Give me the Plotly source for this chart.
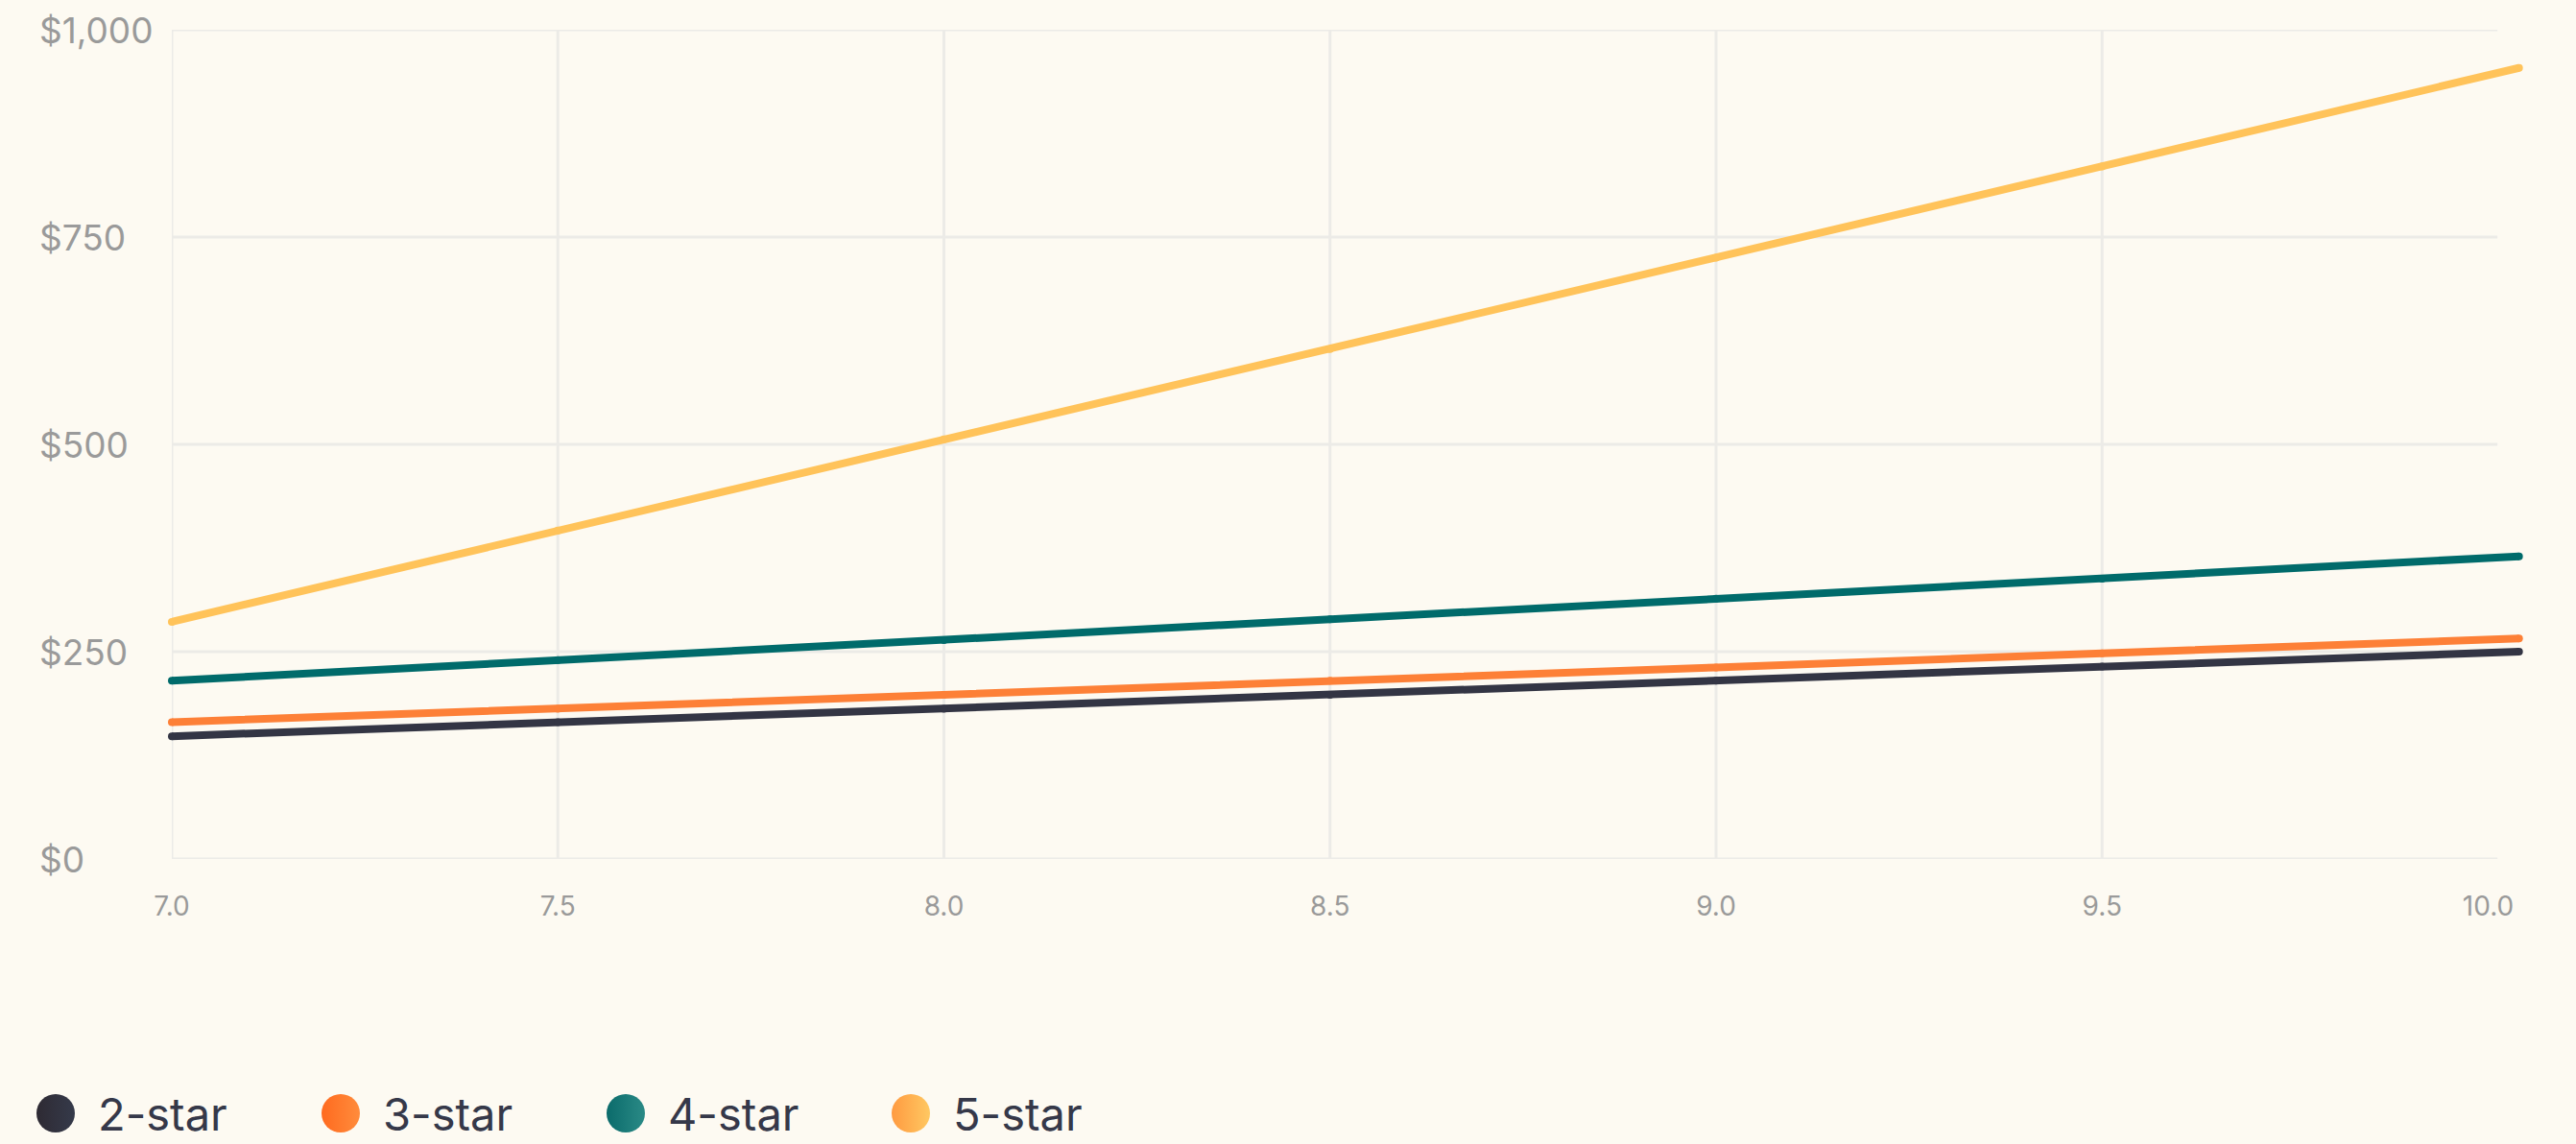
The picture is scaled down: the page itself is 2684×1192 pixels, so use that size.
import plotly.graph_objects as go

# Nightly rate by review score, per hotel class
review_score = [7.0, 7.5, 8.0, 8.5, 9.0, 9.5, 10.04]
series_names = ["2-star", "3-star", "4-star", "5-star"]
rate_2_star = [148, 165, 181, 198, 215, 232, 250]
rate_3_star = [165, 181, 198, 215, 231, 248, 266]
rate_4_star = [215, 240, 264, 289, 314, 338, 365]
rate_5_star = [286, 396, 506, 615, 725, 835, 954]

x_ticks = [7.0, 7.5, 8.0, 8.5, 9.0, 9.5, 10.0]
x_tick_labels = ["7.0", "7.5", "8.0", "8.5", "9.0", "9.5", "10.0"]
y_ticks = [0, 250, 500, 750, 1000]
y_tick_labels = ["$0", "$250", "$500", "$750", "$1,000"]

series_values = [rate_2_star, rate_3_star, rate_4_star, rate_5_star]
line_colors = ["#333544", "#FD8037", "#006B6B", "#FFC35A"]
# legend dots are shaded left -> right
dot_left = ["#2E2A33", "#FF6A1F", "#0B6B6B", "#FF9A40"]
dot_right = ["#353A4A", "#FF8C3C", "#2A8A86", "#FFC862"]

W, H = 2684, 1192
BG = "#FDFAF2"
GRID = "#ECEBE7"
LABEL_GREY = "#9A9A9A"
TEXT_DARK = "#353849"
FONT = "Inter"

x_min, x_max = 7.0, 10.045
px_per_unit = 804.5
left_px = 179
right_px = left_px + (x_max - x_min) * px_per_unit
grid_right = 10.012

fig = go.Figure()

for name, vals, col in zip(series_names, series_values, line_colors):
    fig.add_trace(go.Scatter(
        x=review_score, y=vals, name=name, mode="lines+markers",
        line=dict(color=col, width=8),
        marker=dict(color=col, size=8),
        cliponaxis=False, showlegend=False, hoverinfo="skip",
    ))

# grid drawn as shapes so the rows stop at 10.0 and no column sits at 10.0
shapes = []
for v in y_ticks:
    shapes.append(dict(type="line", xref="x", yref="y", x0=x_min, x1=grid_right,
                       y0=v, y1=v, line=dict(color=GRID, width=3), layer="below"))
for v in x_ticks[:-1]:
    shapes.append(dict(type="line", xref="x", yref="y", x0=v, x1=v,
                       y0=0, y1=1000, line=dict(color=GRID, width=3), layer="below"))

annotations = []
for v, t in zip(y_ticks, y_tick_labels):
    annotations.append(dict(
        x=39 / W, xref="paper", y=v, yref="y", text=t, showarrow=False,
        xanchor="left", yanchor="middle",
        font=dict(family=FONT, size=37, color=LABEL_GREY),
    ))

# custom legend row with large shaded dots
spacing = 297
first_dot = 58
legend_h = 64
fig.add_trace(go.Scatter(
    x=list(range(len(series_names))), y=[0] * len(series_names),
    xaxis="x2", yaxis="y2", mode="markers", showlegend=False, hoverinfo="skip",
    cliponaxis=False,
    marker=dict(size=40, color=dot_left, line=dict(width=0),
                gradient=dict(type="horizontal", color=dot_right)),
))
for i, name in enumerate(series_names):
    annotations.append(dict(
        x=i, xref="x2", y=0, yref="y2", text=name, showarrow=False,
        xanchor="left", yanchor="middle", xshift=42,
        font=dict(family=FONT, size=47, color=TEXT_DARK),
    ))

fig.update_layout(
    width=W, height=H,
    margin=dict(l=0, r=0, t=31, b=0, autoexpand=False),
    paper_bgcolor=BG, plot_bgcolor=BG,
    showlegend=False,
    shapes=shapes, annotations=annotations,
    xaxis=dict(
        domain=[left_px / W, right_px / W], range=[x_min, x_max],
        tickvals=x_ticks, ticktext=x_tick_labels,
        showgrid=False, zeroline=False, showline=False,
        ticks="outside", ticklen=24, tickcolor="rgba(0,0,0,0)",
        tickfont=dict(family=FONT, size=28, color=LABEL_GREY),
        anchor="y", automargin=False,
    ),
    yaxis=dict(
        domain=[297 / (H - 31), 1], range=[0, 1000],
        showgrid=False, zeroline=False, showline=False, showticklabels=False,
        automargin=False,
    ),
    xaxis2=dict(
        domain=[0, 1], anchor="y2",
        range=[-first_dot / spacing, (W - first_dot) / spacing],
        visible=False,
    ),
    yaxis2=dict(
        domain=[0, legend_h / (H - 31)], anchor="x2", range=[-1, 1], visible=False,
    ),
)

fig.write_html("out.html")
